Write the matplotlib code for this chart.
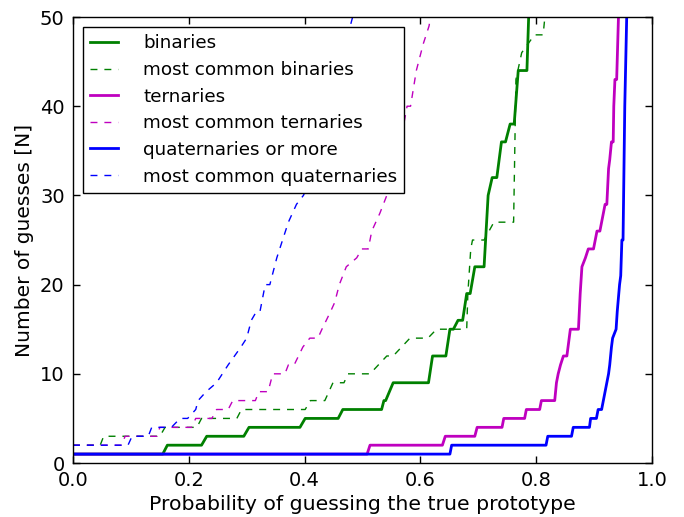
"""Number of guesses needed vs probability of guessing the true prototype."""

import matplotlib

matplotlib.use("Agg")
import matplotlib.pyplot as plt

OUTPUT_PATH = "out.png"

# (probability, number of guesses) vertices
binaries_x = [0.0, 0.155, 0.163, 0.222, 0.231, 0.295, 0.304, 0.392, 0.401, 0.458, 0.466,
              0.533, 0.537, 0.540, 0.553, 0.614, 0.621, 0.644, 0.651, 0.657, 0.665, 0.673,
              0.680, 0.686, 0.694, 0.710, 0.717, 0.724, 0.732, 0.740, 0.747, 0.755, 0.762,
              0.769, 0.784, 0.788]
binaries_y = [1, 1, 2, 2, 3, 3, 4, 4, 5, 5, 6,
              6, 7, 7, 9, 9, 12, 12, 15, 15, 16, 16,
              19, 19, 22, 22, 30, 32, 32, 36, 36, 38, 38,
              44, 44, 52]

common_binaries_x = [0.0, 0.047, 0.053, 0.150, 0.159, 0.214, 0.222, 0.283, 0.291, 0.401, 0.410,
                     0.435, 0.449, 0.468, 0.475, 0.513, 0.542, 0.553, 0.582, 0.613, 0.628,
                     0.680, 0.682, 0.687, 0.690, 0.710, 0.727, 0.761, 0.765, 0.775, 0.797,
                     0.812, 0.818]
common_binaries_y = [2, 2, 3, 3, 4, 4, 5, 5, 6, 6, 7,
                     7, 9, 9, 10, 10, 12, 12, 14, 14, 15,
                     15, 19, 24, 25, 25, 27, 27, 43, 46, 48,
                     48, 52]

ternaries_x = [0.0, 0.508, 0.513, 0.638, 0.643, 0.694, 0.698, 0.741, 0.744, 0.780, 0.783,
               0.806, 0.809, 0.832, 0.835, 0.838, 0.842, 0.847, 0.853, 0.859, 0.873, 0.876,
               0.879, 0.885, 0.890, 0.899, 0.902, 0.905, 0.910, 0.916, 0.919, 0.922, 0.925,
               0.927, 0.930, 0.933, 0.934, 0.936, 0.939, 0.943]
ternaries_y = [1, 1, 2, 2, 3, 3, 4, 4, 5, 5, 6,
               6, 7, 7, 9, 10, 11, 12, 12, 15, 15, 19,
               22, 23, 24, 24, 25, 26, 26, 28, 29, 29, 33,
               34, 36, 36, 40, 43, 43, 52]

common_ternaries_x = [0.0, 0.084, 0.090, 0.145, 0.150, 0.205, 0.212, 0.240, 0.248, 0.268, 0.276,
                      0.315, 0.321, 0.337, 0.345, 0.366, 0.372, 0.382, 0.397, 0.409, 0.423,
                      0.430, 0.445, 0.452, 0.460, 0.472, 0.490, 0.499, 0.510, 0.516, 0.530,
                      0.542, 0.560, 0.577, 0.583, 0.593, 0.605, 0.615, 0.622]
common_ternaries_y = [2, 2, 3, 3, 4, 4, 5, 5, 6, 6, 7,
                      7, 8, 8, 10, 10, 11, 11, 13, 14, 14,
                      15, 17, 18, 20, 22, 23, 24, 24, 26, 28,
                      30, 34, 40, 40, 44, 47, 49, 52]

quaternaries_x = [0.0, 0.651, 0.654, 0.817, 0.820, 0.861, 0.864, 0.892, 0.894, 0.904, 0.907,
                  0.913, 0.916, 0.919, 0.925, 0.927, 0.930, 0.932, 0.938, 0.940, 0.944,
                  0.946, 0.948, 0.950, 0.953, 0.957]
quaternaries_y = [1, 1, 2, 2, 3, 3, 4, 4, 5, 5, 6,
                  6, 7, 8, 10, 11, 13, 14, 15, 17, 20,
                  21, 25, 25, 40, 52]

common_quaternaries_x = [0.0, 0.095, 0.102, 0.130, 0.136, 0.170, 0.185, 0.198, 0.212, 0.216,
                         0.230, 0.248, 0.258, 0.268, 0.290, 0.300, 0.308, 0.317, 0.323, 0.332,
                         0.340, 0.352, 0.362, 0.372, 0.386, 0.398, 0.405, 0.483, 0.488]
common_quaternaries_y = [2, 2, 3, 3, 4, 4, 5, 5, 6, 7,
                         8, 9, 10, 11, 13, 14, 16, 17, 17, 20,
                         20, 23, 25, 27, 29, 30, 31, 50, 53]

series_labels = ["binaries", "most common binaries", "ternaries", "most common ternaries",
                 "quaternaries or more", "most common quaternaries"]


def main() -> None:
    """Draw the six curves and save the figure."""
    plt.rcParams["font.family"] = "DejaVu Sans"
    fig = plt.figure(figsize=(6.84, 5.17), dpi=100)
    ax = fig.add_axes([0.1067, 0.1044, 0.8465, 0.8627])

    series = [
        (binaries_x, binaries_y, "g", "-"),
        (common_binaries_x, common_binaries_y, "g", "--"),
        (ternaries_x, ternaries_y, "m", "-"),
        (common_ternaries_x, common_ternaries_y, "m", "--"),
        (quaternaries_x, quaternaries_y, "b", "-"),
        (common_quaternaries_x, common_quaternaries_y, "b", "--"),
    ]
    colors = {"g": (0, 0.5, 0), "m": (0.75, 0, 0.75), "b": (0, 0, 1)}

    for (xs, ys, color, style), label in zip(series, series_labels):
        if style == "-":
            ax.plot(xs, ys, color=colors[color], linewidth=2.0, label=label)
        else:
            ax.plot(xs, ys, color=colors[color], linewidth=1.0, dashes=(5, 5), label=label)

    ax.set_xlim(0, 1.0)
    ax.set_ylim(0, 50)
    ax.set_xticks([0.0, 0.2, 0.4, 0.6, 0.8, 1.0])
    ax.set_yticks([0, 10, 20, 30, 40, 50])
    ax.tick_params(direction="in", top=True, right=True, length=5, width=1, labelsize=14, pad=6)
    for spine in ax.spines.values():
        spine.set_linewidth(1.0)

    ax.set_xlabel("Probability of guessing the true prototype", fontsize=14.7, labelpad=3)
    ax.set_ylabel("Number of guesses [N]", fontsize=14.5, labelpad=4)

    legend = ax.legend(loc="upper left", fontsize=13.2, fancybox=False, framealpha=1,
                       edgecolor="black", handlelength=1.5, handletextpad=1.37,
                       labelspacing=0.47, borderpad=0.4, borderaxespad=0.55)
    legend.get_frame().set_linewidth(1.0)

    fig.savefig(OUTPUT_PATH, dpi=100)
    plt.close(fig)


if __name__ == "__main__":
    main()
